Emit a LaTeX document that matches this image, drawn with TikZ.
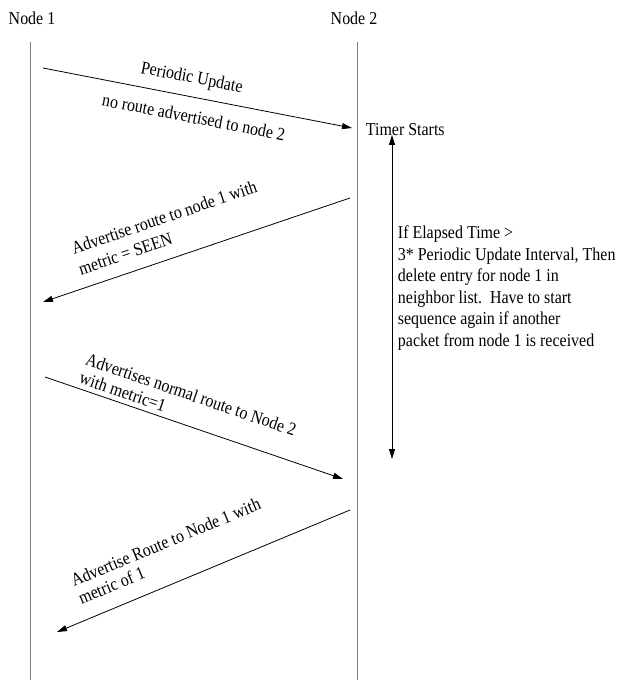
\documentclass[tikz,border=0pt]{standalone}
\usepackage{fontspec}
\setmainfont[FakeStretch=0.88]{Liberation Serif}
\usetikzlibrary{arrows.meta}

\tikzset{
  lifeline/.style={gray, line width=0.75pt},
  msg/.style={black, line width=0.6pt, -{Triangle[length=7.5pt,width=4.5pt]}},
  lbl/.style={font=\fontsize{13.6}{16.5}\selectfont, inner sep=2pt},
  tight/.style={font=\fontsize{13.6}{14.5}\selectfont},
}

\begin{document}
\begin{tikzpicture}[x=0.75pt, y=-0.75pt]
    \useasboundingbox (0,0) rectangle (621,681);

    \node[lbl] (n1) at (32,18)  {Node 1};
    \node[lbl] (n2) at (354,18) {Node 2};

    \coordinate (l1top) at (30,42);
    \coordinate (l1bot) at (30,680);
    \coordinate (l2top) at (357,42);
    \coordinate (l2bot) at (357,680);
    \draw[lifeline] (l1top) -- (l1bot);
    \draw[lifeline] (l2top) -- (l2bot);

    \coordinate (a1) at (43,68);
    \coordinate (b1) at (352,128);
    \coordinate (a2) at (350,198);
    \coordinate (b2) at (43,302);
    \coordinate (a3) at (45,377);
    \coordinate (b3) at (343,479);
    \coordinate (a4) at (350,510);
    \coordinate (b4) at (57,632);

    \draw[msg] (a1) -- node[lbl, sloped, above=5pt, pos=0.47] {Periodic Update}
                       node[lbl, sloped, below=7.5pt, pos=0.5] {no route advertised to node 2} (b1);
    \draw[msg] (a2) -- node[lbl, sloped, above=7.5pt, pos=0.562, align=left]
                       {Advertise route to node 1 with\\metric = SEEN} (b2);
    \draw[msg] (a3) -- node[lbl, tight, sloped, above=1.5pt, pos=0.457, align=left]
                       {Advertises normal route to Node 2\\with metric=1} (b3);
    \draw[msg] (a4) -- node[lbl, tight, sloped, above=9.4pt, pos=0.575, align=left]
                       {Advertise Route to Node 1 with\\metric of 1} (b4);

    \node[lbl, anchor=west] (timer) at (363,130) {Timer Starts};
    \coordinate (t1) at (392,135);
    \coordinate (t2) at (392,459);
    \draw[black, line width=0.6pt, {Triangle[length=7.5pt,width=4.5pt]}-{Triangle[length=7.5pt,width=4.5pt]}] (t1) -- (t2);

    \node[lbl, anchor=north west, align=left, font=\fontsize{13.6}{16.1}\selectfont]
      (rule) at (395,223)
      {If Elapsed Time >\\3* Periodic Update Interval, Then\\delete entry for node 1 in\\neighbor list.\ \ Have to start\\sequence again if another\\packet from node 1 is received};
\end{tikzpicture}
\end{document}
